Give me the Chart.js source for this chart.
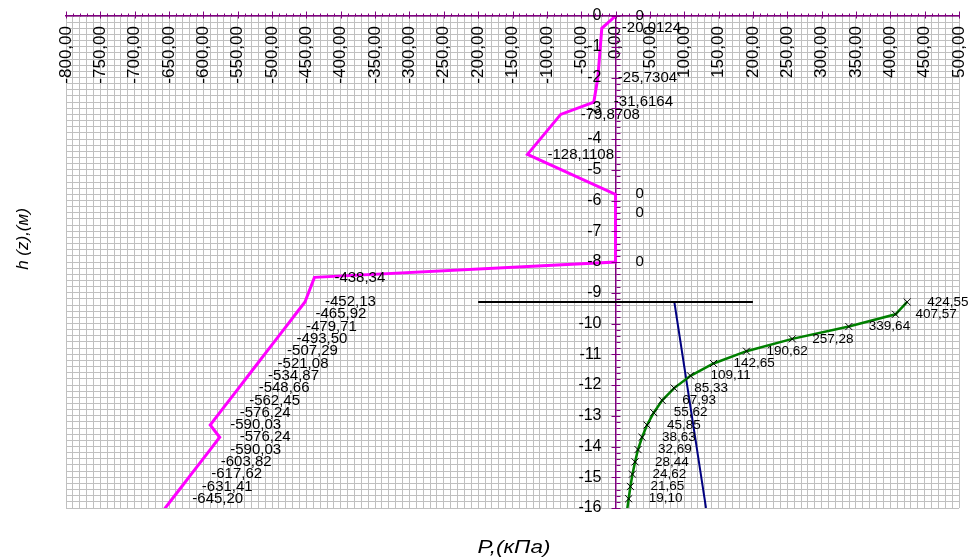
<!DOCTYPE html>
<html>
<head>
<meta charset="utf-8">
<script src="https://cdn.jsdelivr.net/npm/chart.js@4/dist/chart.umd.min.js"></script>
<style>
  html, body { margin: 0; padding: 0; background: #fff; }
</style>
</head>
<body>
<canvas id="chart" width="976" height="559"></canvas>
<script>
// глубины (м) и значения давления (кПа), как подписаны на графике
const activeDepth = [0, -0.4, -2.0, -2.8, -3.2, -4.5, -5.8, -6.4, -8.0, -8.5,
  -9.3, -9.7, -10.1, -10.5, -10.9, -11.3, -11.7, -12.1, -12.5, -12.9,
  -13.3, -13.7, -14.1, -14.5, -14.9, -15.3, -15.7, -16.1];
const activeText = ["0", "-20,0124", "-25,7304", "-31,6164", "-79,8708", "-128,1108", "0", "0", "0", "-438,34",
  "-452,13", "-465,92", "-479,71", "-493,50", "-507,29", "-521,08", "-534,87", "-548,66", "-562,45", "-576,24",
  "-590,03", "-576,24", "-590,03", "-603,82", "-617,62", "-631,41", "-645,20", "-658,99"];

const passiveDepth = [-9.3, -9.7, -10.1, -10.5, -10.9, -11.3, -11.7, -12.1, -12.5, -12.9,
  -13.3, -13.7, -14.1, -14.5, -14.9, -15.3, -15.7, -16.1];
const passiveText = ["424,55", "407,57", "339,64", "257,28", "190,62", "142,65", "109,11", "85,33", "67,93", "55,62",
  "45,85", "38,63", "32,69", "28,44", "24,62", "21,65", "19,10", "16,60"];

const levelDepth = [-9.3, -9.3];
const levelP = [-200, 200];

const slopeDepth = [-9.3, -16];
const slopeP = [85.6, 131.7];

const xTickMin = -800, xTickMax = 500;
const yTickMin = -16, yTickMax = 0;

const num = s => parseFloat(s.replace(",", "."));
const pts = (ps, zs) => ps.map((p, i) => ({x: p, y: zs[i]}));
const whole = v => Math.abs(v - Math.round(v)) < 1e-6;
const FONT = "'Liberation Sans', Arial, sans-serif";
const AXIS = "#800080";

// подписи точек справа от маркера
const pointLabels = {
  id: "pointLabels",
  afterDatasetsDraw(chart) {
    const ctx = chart.ctx;
    const area = chart.chartArea;
    chart.data.datasets.forEach((ds, i) => {
      if (!ds.texts) return;
      const meta = chart.getDatasetMeta(i);
      ctx.save();
      ctx.font = ds.textSize + "px " + FONT;
      ctx.fillStyle = "#000";
      ctx.textBaseline = "middle";
      meta.data.forEach((el, j) => {
        if (el.y > area.bottom + 1) return;
        ctx.fillText(ds.texts[j], el.x + 20, el.y);
      });
      ctx.restore();
    });
  }
};

// засечки на осях и подписи оси h слева от неё
const axisMarks = {
  id: "axisMarks",
  afterDraw(chart) {
    const {ctx, scales: {x, y}} = chart;
    const x0 = Math.round(x.getPixelForValue(0)) + 0.5;
    const y0 = Math.round(y.getPixelForValue(0)) + 0.5;
    ctx.save();
    ctx.strokeStyle = AXIS;
    ctx.lineWidth = 1;
    ctx.beginPath();
    x.ticks.forEach(t => {
      const px = Math.round(x.getPixelForValue(t.value)) + 0.5;
      const major = t.value % 50 === 0;
      ctx.moveTo(px, y0 - (major ? 5 : 3));
      ctx.lineTo(px, y0 + (major ? 2 : 0));
    });
    y.ticks.forEach(t => {
      const py = Math.round(y.getPixelForValue(t.value)) + 0.5;
      ctx.moveTo(x0 - (whole(t.value) ? 5 : 0), py);
      ctx.lineTo(x0 + 4, py);
    });
    ctx.stroke();
    ctx.fillStyle = "#000";
    ctx.font = "16px " + FONT;
    ctx.textAlign = "right";
    ctx.textBaseline = "middle";
    y.ticks.forEach(t => {
      if (!whole(t.value)) return;
      ctx.fillText(String(Math.round(t.value)), x0 - 15, y.getPixelForValue(t.value));
    });
    ctx.restore();
  }
};

const axisTitles = {
  id: "axisTitles",
  afterDraw(chart) {
    const ctx = chart.ctx;
    ctx.save();
    ctx.fillStyle = "#000";
    ctx.textAlign = "center";
    ctx.textBaseline = "middle";
    ctx.font = "italic 18px " + FONT;
    ctx.save();
    ctx.translate(514, 548);
    ctx.scale(1.25, 1);
    ctx.fillText("P,(кПа)", 0, 0);
    ctx.restore();
    ctx.font = "italic 17px " + FONT;
    ctx.translate(23, 239);
    ctx.rotate(-Math.PI / 2);
    ctx.fillText("h (z),(м)", 0, 0);
    ctx.restore();
  }
};

new Chart(document.getElementById("chart"), {
  type: "scatter",
  data: {
    datasets: [
      {
        data: pts(activeText.map(num), activeDepth),
        texts: activeText, textSize: 15,
        showLine: true, borderColor: "#ff00ff", borderWidth: 3,
        pointRadius: 0, order: 2
      },
      {
        data: pts(levelP, levelDepth),
        showLine: true, borderColor: "#000", borderWidth: 2,
        pointRadius: 0, order: 3
      },
      {
        data: pts(slopeP, slopeDepth),
        showLine: true, borderColor: "#000080", borderWidth: 2,
        pointRadius: 0, order: 4
      },
      {
        data: pts(passiveText.map(num), passiveDepth),
        texts: passiveText, textSize: 13.5,
        showLine: true, borderColor: "#008000", borderWidth: 2.5,
        pointStyle: "crossRot",
        pointRadius: c => (c.raw && c.raw.y < yTickMin ? 0 : 5),
        pointBorderColor: "#000", pointBorderWidth: 1,
        order: 1
      }
    ]
  },
  options: {
    responsive: false,
    animation: false,
    devicePixelRatio: 1,
    layout: { padding: { left: 66, right: 17, top: 16, bottom: 51 } },
    plugins: { legend: { display: false }, tooltip: { enabled: false } },
    scales: {
      x: {
        type: "linear",
        min: xTickMin, max: xTickMax,
        position: { y: 0 },
        grid: { color: "#c0c0c0", lineWidth: 1, tickColor: "rgba(0,0,0,0)", tickLength: 10 },
        border: { color: AXIS, width: 1.5 },
        ticks: {
          stepSize: 10, autoSkip: false, minRotation: 90, maxRotation: 90,
          padding: 0, color: "#000", font: { size: 17, family: FONT, lineHeight: 0.8 },
          callback: v => (v % 50 === 0 ? v.toFixed(2).replace(".", ",") : "")
        }
      },
      y: {
        type: "linear",
        min: yTickMin, max: yTickMax,
        position: { x: 0 },
        grid: { color: "#c0c0c0", lineWidth: 1, tickColor: "rgba(0,0,0,0)", tickLength: 0 },
        border: { color: AXIS, width: 1.5 },
        ticks: {
          stepSize: 0.2, autoSkip: false, display: false,
          padding: 0, font: { size: 16, family: FONT, lineHeight: 1 }
        }
      }
    }
  },
  plugins: [pointLabels, axisMarks, axisTitles]
});
</script>
</body>
</html>
